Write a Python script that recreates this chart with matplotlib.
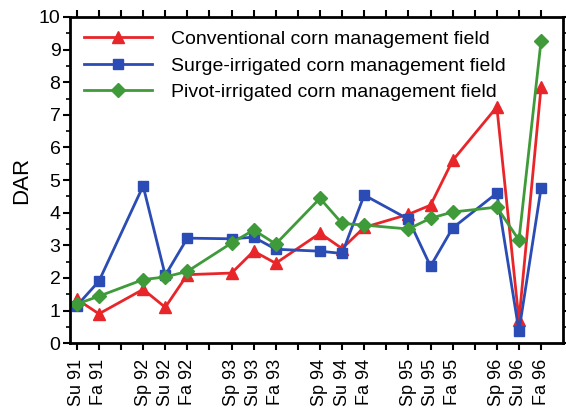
import matplotlib
matplotlib.use("Agg")
import matplotlib.pyplot as plt
from matplotlib.ticker import MultipleLocator

plt.rcParams["font.family"] = ["Liberation Sans", "DejaVu Sans"]

# quarterly slots, winter quarters are left empty
seasons = ["Su 91", "Fa 91", "Sp 92", "Su 92", "Fa 92", "Sp 93", "Su 93", "Fa 93",
           "Sp 94", "Su 94", "Fa 94", "Sp 95", "Su 95", "Fa 95", "Sp 96", "Su 96", "Fa 96"]
slots = [0, 1, 3, 4, 5, 7, 8, 9, 11, 12, 13, 15, 16, 17, 19, 20, 21]

conventional = [1.35, 0.9, 1.65, 1.1, 2.1, 2.15, 2.82, 2.45, 3.37, 2.9, 3.55,
                3.95, 4.23, 5.6, 7.24, 0.7, 7.85]
surge = [1.15, 1.9, 4.82, 2.08, 3.22, 3.2, 3.25, 2.88, 2.82, 2.75, 4.54,
         3.8, 2.36, 3.53, 4.6, 0.37, 4.75]
pivot = [1.2, 1.44, 1.95, 2.03, 2.2, 3.07, 3.47, 3.04, 4.44, 3.67, 3.62,
         3.5, 3.83, 4.02, 4.17, 3.16, 9.27]

fig = plt.figure(figsize=(5.66, 4.13), dpi=100)
ax = fig.add_axes([0.124, 0.169, 0.871, 0.79])

ax.plot(slots, conventional, color="#e8262a", marker="^", markersize=9, linewidth=2,
        label="Conventional corn management field")
ax.plot(slots, surge, color="#2a4cb4", marker="s", markersize=7, linewidth=2,
        label="Surge-irrigated corn management field")
ax.plot(slots, pivot, color="#3f9a3a", marker="D", markersize=7, linewidth=2,
        label="Pivot-irrigated corn management field")

ax.set_xlim(-0.3, 22)
ax.set_ylim(0, 10)
ax.set_xticks(range(0, 22))
ax.set_xticklabels([seasons[slots.index(i)] if i in slots else "" for i in range(22)],
                   rotation=90)
ax.yaxis.set_major_locator(MultipleLocator(1))
ax.yaxis.set_minor_locator(MultipleLocator(0.5))
ax.tick_params(axis="both", direction="out", length=5, width=1.5, top=True, right=True,
               labelsize=14)
ax.tick_params(axis="y", which="minor", direction="out", length=3, width=1.2, right=True)
ax.tick_params(axis="x", labelsize=13, pad=6)
ax.tick_params(axis="y", pad=2)
for spine in ax.spines.values():
    spine.set_linewidth(2)

ax.set_ylabel("DAR", fontsize=16, labelpad=5)
ax.legend(loc="upper left", frameon=False, fontsize=14, handlelength=3.5,
          borderaxespad=0.3, labelspacing=0.45, handletextpad=1.0)

fig.savefig("out.png", dpi=100)
